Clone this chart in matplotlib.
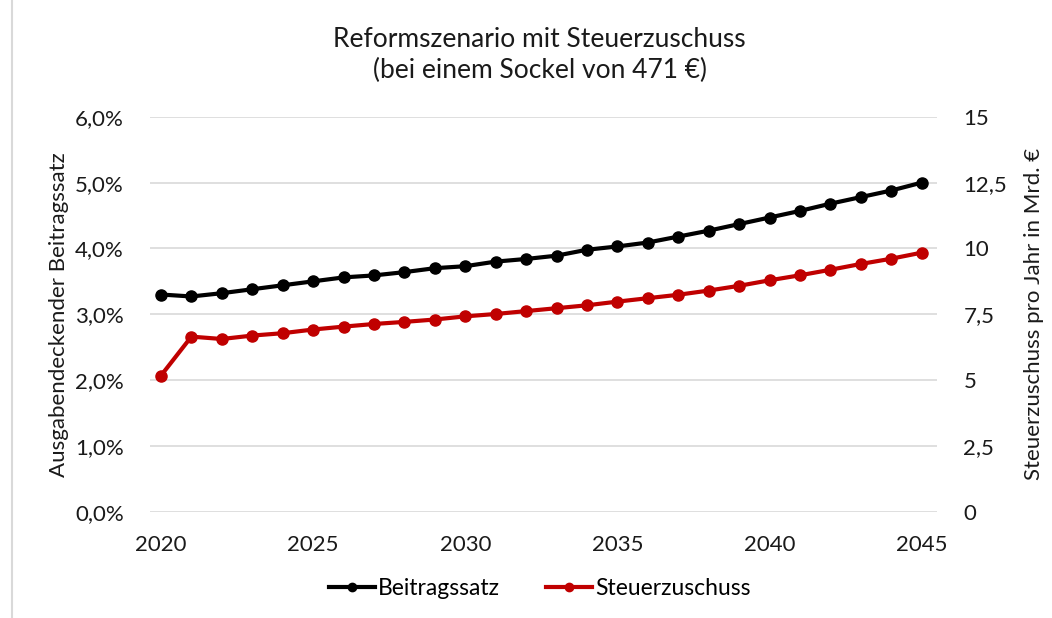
import numpy as np
import matplotlib.pyplot as plt
from matplotlib.lines import Line2D
from matplotlib.ticker import FuncFormatter

plt.rcParams['font.family'] = ['Lato', 'DejaVu Sans']

years = list(range(2020, 2046))
beitragssatz = [3.30, 3.27, 3.32, 3.38, 3.44, 3.50, 3.56, 3.59, 3.64, 3.70,
                3.73, 3.80, 3.84, 3.89, 3.98, 4.03, 4.09, 4.18, 4.27, 4.37,
                4.47, 4.57, 4.68, 4.78, 4.88, 5.00]
steuerzuschuss = [5.17, 6.65, 6.56, 6.69, 6.78, 6.92, 7.03, 7.13, 7.21, 7.30,
                  7.42, 7.51, 7.62, 7.73, 7.84, 7.98, 8.11, 8.24, 8.40, 8.58,
                  8.79, 8.98, 9.19, 9.41, 9.61, 9.84]

black = '#000000'
red = '#C00000'
txt = '#1a1a1a'

fig = plt.figure(figsize=(10.52, 6.18), dpi=100)
ax = fig.add_axes([0.1426, 0.172, 0.748, 0.639])
ax2 = ax.twinx()

ax.set_xlim(2019.64, 2045.5)
ax.set_ylim(0, 6)
ax2.set_ylim(0, 15)

ax.set_yticks(np.arange(0, 6.01, 1))
ax.yaxis.set_major_formatter(FuncFormatter(lambda v, p: f'{v:.1f}%'.replace('.', ',')))
ax2.set_yticks(np.arange(0, 15.01, 2.5))
ax2.yaxis.set_major_formatter(FuncFormatter(
    lambda v, p: (f'{v:g}').replace('.', ',')))
ax.set_xticks(range(2020, 2046, 5))

ax.grid(axis='y', color='#d9d9d9', lw=1.2)
ax.set_axisbelow(True)
for a in (ax, ax2):
    for s in a.spines.values():
        s.set_visible(False)
    a.tick_params(length=0, labelsize=16, colors=txt)
ax.tick_params(axis='y', pad=19)
ax2.tick_params(axis='y', pad=19)
ax.tick_params(axis='x', pad=17)

l1, = ax.plot(years, beitragssatz, color=black, lw=3, marker='o', ms=8,
              label='Beitragssatz')
l2, = ax2.plot(years, steuerzuschuss, color=red, lw=3, marker='o', ms=8,
               label='Steuerzuschuss')

ax.set_ylabel('Ausgabendeckender Beitragssatz', fontsize=16, color=txt, labelpad=4)
ax2.set_ylabel('Steuerzuschuss pro Jahr in Mrd. €', fontsize=16, color=txt,
               labelpad=12)

fig.text(0.513, 0.911, 'Reformszenario mit Steuerzuschuss\n(bei einem Sockel von 471 €)',
         ha='center', va='center', fontsize=19, color=txt, linespacing=1.3)

fig.legend(handles=[l1, l2], loc='center', bbox_to_anchor=(0.513, 0.048), ncol=2,
           frameon=False, fontsize=16.5, handlelength=2.0, columnspacing=2.0,
           handletextpad=0.15, markerscale=0.75)

fig.add_artist(Line2D([12 / 1052, 12 / 1052], [0, 1], color='#d9d9d9', lw=1.5))

fig.savefig('out.png', dpi=100)
